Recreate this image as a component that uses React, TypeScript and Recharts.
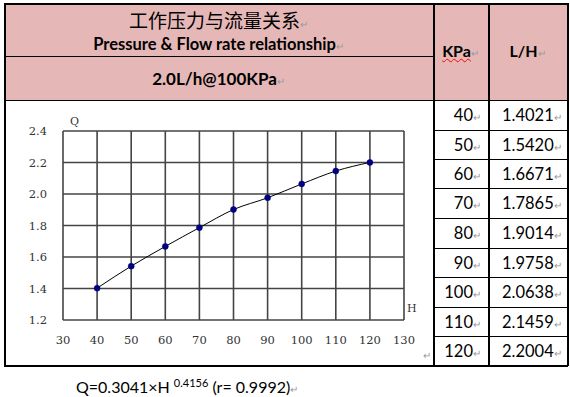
import React from 'react'
import { LineChart, Line, XAxis, YAxis, CartesianGrid } from 'recharts'

const pressures = [40, 50, 60, 70, 80, 90, 100, 110, 120]
const flows = [1.4021, 1.542, 1.6671, 1.7865, 1.9014, 1.9758, 2.0638, 2.1459, 2.2004]
const xTicks = [30, 40, 50, 60, 70, 80, 90, 100, 110, 120, 130]
const yTicks = [1.2, 1.4, 1.6, 1.8, 2.0, 2.2, 2.4]

const data = pressures.map((p, i) => ({ p, q: flows[i] }))

const PINK = '#e5b8b7'
const MARK = '↵'

const line = (l: number, t: number, w: number, h: number) => (
  <div style={{ position: 'absolute', left: l, top: t, width: w, height: h, background: '#000' }} />
)

const Mark = () => <span style={{ color: '#999', fontSize: 10, fontWeight: 400 }}>{MARK}</span>

// serif tick labels like the original
const SerifTick = (props: any) => {
  const { x, y, payload, textAnchor, orientation } = props
  const v = orientation === 'left' ? Number(payload.value).toFixed(1) : String(payload.value)
  return (
    <text
      x={x}
      y={y}
      dy={orientation === 'bottom' ? '0.71em' : '0.355em'}
      textAnchor={textAnchor}
      fontFamily="DejaVu Serif"
      fontSize={11.5}
      fill="#333"
    >
      {v}
    </text>
  )
}

export default function App() {
  const rowTops = [100, 130, 159, 188, 218, 248, 277, 307, 336]
  return (
    <div style={{ position: 'absolute', left: 0, top: 0, width: 570, height: 397, background: '#fff', fontFamily: 'Lato, "Open Sans", sans-serif', overflow: 'hidden' }}>
      {/* header fills */}
      <div style={{ position: 'absolute', left: 4, top: 3, width: 563, height: 97, background: PINK }} />

      {/* header text */}
      <div style={{ position: 'absolute', left: 4, top: 7, width: 429, textAlign: 'center', fontFamily: '"Noto Sans CJK SC"', fontSize: 19, lineHeight: '26px' }}>
        工作压力与流量关系<Mark />
      </div>
      <div style={{ position: 'absolute', left: 4, top: 33, width: 429, textAlign: 'center', fontWeight: 700, fontSize: 16.5, lineHeight: '22px' }}>
        Pressure &amp; Flow rate relationship<Mark />
      </div>
      <div style={{ position: 'absolute', left: 4, top: 68, width: 429, textAlign: 'center', fontWeight: 700, fontSize: 17, lineHeight: '22px' }}>
        2.0L/h@100KPa<Mark />
      </div>
      <div style={{ position: 'absolute', left: 433, top: 40, width: 55, textAlign: 'center', fontWeight: 700, fontSize: 16, lineHeight: '22px' }}>
        <span style={{ textDecoration: 'underline wavy red', textDecorationThickness: 1 }}>KPa</span><Mark />
      </div>
      <div style={{ position: 'absolute', left: 488, top: 40, width: 79, textAlign: 'center', fontWeight: 700, fontSize: 16, lineHeight: '22px' }}>
        L/H<Mark />
      </div>

      {/* table rows */}
      {pressures.map((p, i) => (
        <React.Fragment key={p}>
          <div style={{ position: 'absolute', left: 433, top: rowTops[i] + 4, width: 48, textAlign: 'right', fontSize: 16.5, lineHeight: '22px' }}>
            {p}<Mark />
          </div>
          <div style={{ position: 'absolute', left: 502, top: rowTops[i] + 4, width: 70, textAlign: 'left', fontSize: 16.5, lineHeight: '22px' }}>
            {flows[i].toFixed(4)}<Mark />
          </div>
        </React.Fragment>
      ))}

      {/* borders */}
      {line(4, 3, 564, 1.5)}
      {line(4, 56, 429, 1.2)}
      {line(4, 100, 564, 1.2)}
      {line(4, 3, 1.5, 363)}
      {line(4, 365, 564, 1.5)}
      {line(433, 3, 1.5, 363)}
      {line(488, 3, 1.5, 363)}
      {line(567, 3, 1.5, 363)}
      {rowTops.slice(1).map((t) => (
        <React.Fragment key={t}>{line(433, t, 135, 1.2)}</React.Fragment>
      ))}

      {/* chart */}
      <div style={{ position: 'absolute', left: 4, top: 100 }}>
        <LineChart width={430} height={265} data={data} margin={{ top: 31, right: 30, bottom: 15, left: 10 }}>
          <CartesianGrid stroke="#444" strokeWidth={1.6} />
          <XAxis
            dataKey="p"
            type="number"
            domain={[30, 130]}
            ticks={xTicks}
            tickLine={false}
            axisLine={false}
            tickMargin={10}
            height={30}
            tick={<SerifTick />}
            interval={0}
          />
          <YAxis
            type="number"
            domain={[1.2, 2.4]}
            ticks={yTicks}
            tickLine={false}
            axisLine={false}
            tickMargin={10}
            width={49}
            tick={<SerifTick />}
            interval={0}
          />
          <Line
            type="monotone"
            dataKey="q"
            stroke="#000"
            strokeWidth={1}
            dot={{ r: 3, fill: '#000080', stroke: '#000080', strokeWidth: 0.5 }}
            isAnimationActive={false}
          />
        </LineChart>
      </div>
      <div style={{ position: 'absolute', left: 70, top: 115, fontFamily: '"DejaVu Serif"', fontSize: 11, color: '#333' }}>Q</div>
      <div style={{ position: 'absolute', left: 407, top: 302, fontFamily: '"DejaVu Serif"', fontSize: 11, color: '#333' }}>H</div>
      <div style={{ position: 'absolute', left: 423, top: 349, color: '#999', fontSize: 10 }}>{MARK}</div>

      {/* fitted equation */}
      <div style={{ position: 'absolute', left: 76, top: 372, fontSize: 16, lineHeight: '22px', whiteSpace: 'nowrap' }}>
        Q=0.3041×H <sup style={{ fontSize: 11, verticalAlign: 6 }}>0.4156</sup> (r= 0.9992)<Mark />
      </div>
    </div>
  )
}
